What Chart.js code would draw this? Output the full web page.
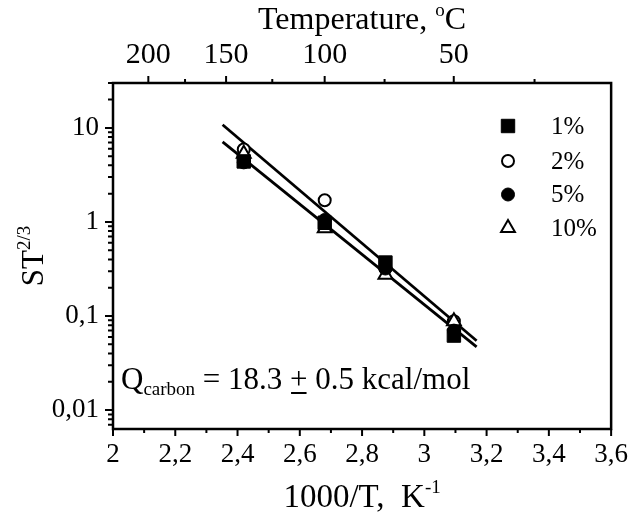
<!DOCTYPE html>
<html>
<head>
<meta charset="utf-8">
<script src="https://cdn.jsdelivr.net/npm/chart.js@4.4.1/dist/chart.umd.min.js"></script>
<style>
  html, body { margin: 0; padding: 0; background: #fff; }
</style>
</head>
<body>
<canvas id="arrChart" width="638" height="512"></canvas>
<script>
// measured points: 1000/T (K^-1) against ST^(2/3)
const invT = [2.42, 2.68, 2.875, 3.095];
const s1 = [4.4, 0.98, 0.37, 0.062];
const s2 = [5.9, 1.7, 0.32, 0.088];
const s5 = [4.3, 1.05, 0.32, 0.07];
const s10 = [5.3, 0.86, 0.275, 0.088];
const seriesNames = ['1%', '2%', '5%', '10%'];

// Arrhenius fit lines, given by their two end points
const fitX = [2.352, 3.168];
const fitUpper = [10.8, 0.0546];
const fitLower = [7.1, 0.0471];

// axis ticks
const xTickValues = [2, 2.2, 2.4, 2.6, 2.8, 3, 3.2, 3.4, 3.6];
const xTickLabels = ['2', '2,2', '2,4', '2,6', '2,8', '3', '3,2', '3,4', '3,6'];
const yTickValues = [0.01, 0.1, 1, 10];
const yTickLabels = ['0,01', '0,1', '1', '10'];
const topTemps = [200, 150, 100, 50];
const topMinorTemps = [175, 125, 75, 25];

const ink = '#000';
const serif = 'Liberation Serif';
const toPts = ys => invT.map((x, i) => ({ x: x, y: ys[i] }));
const fitPts = ys => fitX.map((x, i) => ({ x: x, y: ys[i] }));
const celsiusToInv = t => 1000 / (t + 273.15);

// text with a raised or lowered small part, drawn left to right
function drawRich(ctx, parts, x, y, align) {
  let total = 0;
  parts.forEach(p => {
    ctx.font = p.size + 'px "' + serif + '"';
    p.w = ctx.measureText(p.text).width;
    total += p.w;
  });
  let cx = align === 'center' ? x - total / 2 : x;
  ctx.textAlign = 'left';
  ctx.textBaseline = 'alphabetic';
  parts.forEach(p => {
    ctx.font = p.size + 'px "' + serif + '"';
    ctx.fillText(p.text, cx, y + (p.dy || 0));
    if (p.underline) {
      ctx.fillRect(cx + 1, y + 3, p.w - 2, 2);
    }
    cx += p.w;
  });
}

// frame, tick marks, titles, note and legend
const paperAxes = {
  id: 'paperAxes',
  afterDraw(chart) {
    const ctx = chart.ctx;
    const a = chart.chartArea;
    const sx = chart.scales.x, sy = chart.scales.y, st = chart.scales.x2;
    ctx.save();
    ctx.strokeStyle = ink;
    ctx.fillStyle = ink;
    ctx.lineWidth = 2.5;
    ctx.strokeRect(a.left, a.top, a.right - a.left, a.bottom - a.top);

    ctx.lineWidth = 2;
    ctx.beginPath();
    // bottom axis
    for (let v = 2; v <= 3.601; v += 0.1) {
      const px = sx.getPixelForValue(v);
      const major = Math.abs(v * 5 - Math.round(v * 5)) < 1e-6;
      ctx.moveTo(px, a.bottom);
      ctx.lineTo(px, a.bottom + (major ? 7 : 4));
    }
    // left axis, log decades with minor marks
    for (let d = -3; d <= 1; d++) {
      for (let m = 1; m <= 9; m++) {
        const v = m * Math.pow(10, d);
        if (v < sy.min || v > sy.max) continue;
        const py = sy.getPixelForValue(v);
        ctx.moveTo(a.left, py);
        ctx.lineTo(a.left - (m === 1 ? 8 : 5), py);
      }
    }
    // top axis in degrees Celsius
    topTemps.forEach(t => {
      const px = st.getPixelForValue(celsiusToInv(t));
      ctx.moveTo(px, a.top);
      ctx.lineTo(px, a.top - 7);
    });
    topMinorTemps.forEach(t => {
      const px = st.getPixelForValue(celsiusToInv(t));
      ctx.moveTo(px, a.top);
      ctx.lineTo(px, a.top - 4);
    });
    ctx.stroke();

    // axis titles
    drawRich(ctx, [
      { text: 'Temperature, ', size: 32 },
      { text: 'o', size: 19, dy: -13 },
      { text: 'C', size: 32 }
    ], (a.left + a.right) / 2, 29, 'center');

    drawRich(ctx, [
      { text: '1000/T,  K', size: 33 },
      { text: '-1', size: 19, dy: -14 }
    ], (a.left + a.right) / 2, 507, 'center');

    ctx.save();
    ctx.translate(43, (a.top + a.bottom) / 2);
    ctx.rotate(-Math.PI / 2);
    drawRich(ctx, [
      { text: 'ST', size: 31 },
      { text: '2/3', size: 19, dy: -13 }
    ], 0, 0, 'center');
    ctx.restore();

    // activation energy note
    drawRich(ctx, [
      { text: 'Q', size: 31 },
      { text: 'carbon', size: 19, dy: 6 },
      { text: ' = 18.3 ', size: 31 },
      { text: '+', size: 31, underline: true },
      { text: ' 0.5 kcal/mol', size: 31 }
    ], 121, 389, 'left');

    // legend column
    const rows = [126, 161, 194.5, 228];
    chart.data.datasets.forEach((ds, i) => {
      if (i >= seriesNames.length) return;
      ctx.save();
      ctx.fillStyle = ds.backgroundColor;
      ctx.strokeStyle = ds.borderColor;
      ctx.lineWidth = ds.borderWidth;
      Chart.helpers.drawPoint(ctx, {
        pointStyle: ds.pointStyle,
        radius: ds.pointRadius,
        borderWidth: ds.borderWidth,
        rotation: 0
      }, 508, rows[i]);
      ctx.restore();
      ctx.font = '25px "' + serif + '"';
      ctx.textAlign = 'left';
      ctx.textBaseline = 'middle';
      ctx.fillText(seriesNames[i], 551, rows[i] + 1);
    });
    ctx.restore();
  }
};

const elChart = document.getElementById('arrChart').getContext('2d');

// lower order is painted on top
const arrChart = new Chart(elChart, {
  type: 'scatter',
  data: {
    datasets: [
      { label: seriesNames[0], data: toPts(s1), order: 1, pointStyle: 'rect', pointRadius: 9.5,
        backgroundColor: ink, borderColor: ink, borderWidth: 1 },
      { label: seriesNames[1], data: toPts(s2), order: 3, pointStyle: 'circle', pointRadius: 6,
        backgroundColor: '#fff', borderColor: ink, borderWidth: 2 },
      { label: seriesNames[2], data: toPts(s5), order: 0, pointStyle: 'circle', pointRadius: 6.5,
        backgroundColor: ink, borderColor: ink, borderWidth: 1 },
      { label: seriesNames[3], data: toPts(s10), order: 2, pointStyle: 'triangle', pointRadius: 8,
        backgroundColor: '#fff', borderColor: ink, borderWidth: 2 },
      { label: 'fit a', data: fitPts(fitUpper), order: 4, showLine: true, pointRadius: 0,
        borderColor: ink, borderWidth: 2.8, fill: false },
      { label: 'fit b', data: fitPts(fitLower), order: 4, showLine: true, pointRadius: 0,
        borderColor: ink, borderWidth: 2.8, fill: false }
    ]
  },
  options: {
    responsive: false,
    animation: false,
    devicePixelRatio: 1,
    layout: { padding: { top: 0, right: 21, bottom: 0, left: 0 } },
    plugins: {
      legend: { display: false },
      tooltip: { enabled: false }
    },
    scales: {
      x: {
        type: 'linear',
        position: 'bottom',
        min: 2,
        max: 3.6,
        grid: { display: false, drawTicks: false },
        border: { display: false },
        afterBuildTicks: s => { s.ticks = xTickValues.map(v => ({ value: v })); },
        afterFit: s => { s.height = 83; },
        ticks: {
          autoSkip: false,
          maxRotation: 0,
          padding: 10,
          color: ink,
          font: { family: serif, size: 27 },
          callback: (v, i) => xTickLabels[i]
        }
      },
      x2: {
        type: 'linear',
        position: 'top',
        min: 2,
        max: 3.6,
        grid: { display: false, drawTicks: false },
        border: { display: false },
        afterBuildTicks: s => { s.ticks = topTemps.map(t => ({ value: celsiusToInv(t) })); },
        afterFit: s => { s.height = 83; },
        ticks: {
          autoSkip: false,
          maxRotation: 0,
          padding: 10,
          color: ink,
          font: { family: serif, size: 30 },
          callback: (v, i) => String(topTemps[i])
        }
      },
      y: {
        type: 'logarithmic',
        min: 0.0063,
        max: 30,
        grid: { display: false, drawTicks: false },
        border: { display: false },
        afterBuildTicks: s => { s.ticks = yTickValues.map(v => ({ value: v })); },
        afterFit: s => { s.width = 113; },
        ticks: {
          autoSkip: false,
          padding: 14,
          color: ink,
          font: { family: serif, size: 27 },
          callback: (v, i) => yTickLabels[i]
        }
      }
    }
  },
  plugins: [paperAxes]
});
</script>
</body>
</html>
